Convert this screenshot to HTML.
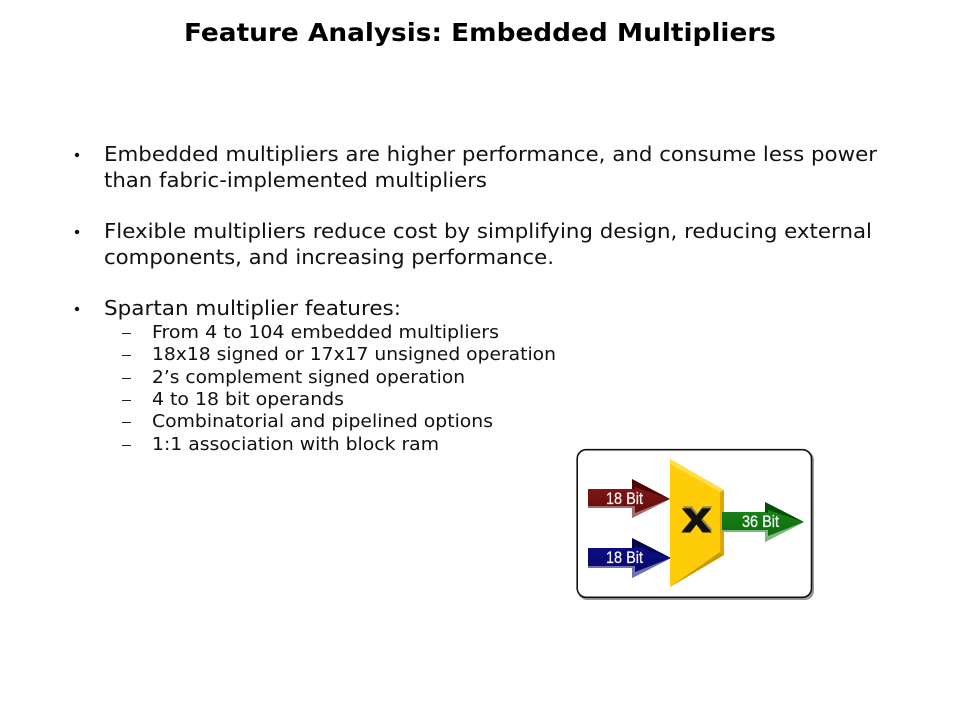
<!DOCTYPE html>
<html>
<head>
<meta charset="utf-8">
<style>
html,body{margin:0;padding:0;background:#fff;width:960px;height:720px;overflow:hidden}
svg{display:block}
text{font-family:"DejaVu Sans","Liberation Sans",sans-serif;fill:#111}
.t{font-size:25px;font-weight:bold;fill:#000}
.b{font-size:20.5px}
.s{font-size:17.5px}
.d{font-family:"Liberation Sans",sans-serif;font-size:16.5px;fill:#f4f4f4;stroke:#f4f4f4;stroke-width:.3px}
</style>
</head>
<body>
<svg width="960" height="720" viewBox="0 0 960 720" xmlns="http://www.w3.org/2000/svg">
<defs>
<linearGradient id="r" x1="0" y1="0" x2="0" y2="1"><stop offset="0" stop-color="#8a1c1c"/><stop offset="1" stop-color="#5f0808"/></linearGradient>
<linearGradient id="n" x1="0" y1="0" x2="0" y2="1"><stop offset="0" stop-color="#10108c"/><stop offset="1" stop-color="#060664"/></linearGradient>
<linearGradient id="g" x1="0" y1="0" x2="0" y2="1"><stop offset="0" stop-color="#1f8a1f"/><stop offset="1" stop-color="#086608"/></linearGradient>
</defs>

<text class="t" x="184" y="41" textLength="592" lengthAdjust="spacingAndGlyphs">Feature Analysis: Embedded Multipliers</text>

<circle cx="77" cy="155" r="2.2" fill="#111"/>
<text class="b" x="104" y="161" textLength="773" lengthAdjust="spacingAndGlyphs">Embedded multipliers are higher performance, and consume less power</text>
<text class="b" x="104" y="187" textLength="383" lengthAdjust="spacingAndGlyphs">than fabric-implemented multipliers</text>

<circle cx="77" cy="232" r="2.2" fill="#111"/>
<text class="b" x="104" y="238" textLength="768" lengthAdjust="spacingAndGlyphs">Flexible multipliers reduce cost by simplifying design, reducing external</text>
<text class="b" x="104" y="264" textLength="450" lengthAdjust="spacingAndGlyphs">components, and increasing performance.</text>

<circle cx="77" cy="309" r="2.2" fill="#111"/>
<text class="b" x="104" y="315" textLength="297" lengthAdjust="spacingAndGlyphs">Spartan multiplier features:</text>

<g fill="#222">
<rect x="122" y="333" width="9" height="1"/>
<rect x="122" y="355" width="9" height="1"/>
<rect x="122" y="378" width="9" height="1"/>
<rect x="122" y="400" width="9" height="1"/>
<rect x="122" y="422" width="9" height="1"/>
<rect x="122" y="445" width="9" height="1"/>
</g>
<text class="s" x="152" y="338" textLength="347" lengthAdjust="spacingAndGlyphs">From 4 to 104 embedded multipliers</text>
<text class="s" x="152" y="360" textLength="404" lengthAdjust="spacingAndGlyphs">18x18 signed or 17x17 unsigned operation</text>
<text class="s" x="152" y="383" textLength="313" lengthAdjust="spacingAndGlyphs">2’s complement signed operation</text>
<text class="s" x="152" y="405" textLength="192" lengthAdjust="spacingAndGlyphs">4 to 18 bit operands</text>
<text class="s" x="152" y="427" textLength="341" lengthAdjust="spacingAndGlyphs">Combinatorial and pipelined options</text>
<text class="s" x="152" y="450" textLength="287" lengthAdjust="spacingAndGlyphs">1:1 association with block ram</text>

<!-- diagram -->
<rect x="578" y="451" width="236" height="149" rx="9" fill="#9a9a9a"/>
<rect x="577.2" y="449.7" width="234.3" height="147.6" rx="9" fill="#fff" stroke="#111" stroke-width="1.6"/>

<!-- red arrow -->
<polygon points="588,489 632,489 632,479 670,499 632,518 632,508 588,508" fill="url(#r)"/>
<polygon points="588,508 632,508 632,518 670,499 635,513 635,506 588,506" fill="#a56a6a"/>
<polygon points="632,479 670,499 635,487 635,490 632,489" fill="#4a0505"/>
<!-- blue arrow -->
<polygon points="588,548 632,548 632,538 671,558 632,578 632,568 588,568" fill="url(#n)"/>
<polygon points="588,568 632,568 632,578 671,558 635,572 635,566 588,566" fill="#6f6fb8"/>
<polygon points="632,538 671,558 635,546 635,549 632,548" fill="#03034f"/>

<!-- yellow multiplier -->
<polygon points="670,459 724,490 724,555 670,587" fill="#ffcc0a"/>
<polygon points="720,492 724,490 724,555 720,552" fill="#dda800"/>
<polygon points="670,459 724,490 720,492 670,464" fill="#ffdc4a"/>
<polygon points="670,587 720,552 724,555" fill="#c99700"/>

<!-- green arrow -->
<polygon points="722,512 765,512 765,502 804,522 765,542 765,532 722,532" fill="url(#g)"/>
<polygon points="722,532 765,532 765,542 804,522 768,536 768,530 722,530" fill="#7fb87f"/>
<polygon points="765,502 804,522 768,510 768,513 765,512" fill="#045004"/>

<text x="683" y="530" textLength="29" lengthAdjust="spacingAndGlyphs" style="font-family:'Liberation Sans',sans-serif;font-size:44px;font-weight:bold;fill:#8f8350;stroke:#8f8350;stroke-width:1px">x</text>
<text x="682" y="532" textLength="29" lengthAdjust="spacingAndGlyphs" style="font-family:'Liberation Sans',sans-serif;font-size:44px;font-weight:bold;fill:#111;stroke:#111;stroke-width:1px">x</text>

<text class="d" x="606" y="504" textLength="37" lengthAdjust="spacingAndGlyphs">18 Bit</text>
<text class="d" x="606" y="563" textLength="37" lengthAdjust="spacingAndGlyphs">18 Bit</text>
<text class="d" x="742" y="527" textLength="37" lengthAdjust="spacingAndGlyphs">36 Bit</text>
</svg>
</body>
</html>
